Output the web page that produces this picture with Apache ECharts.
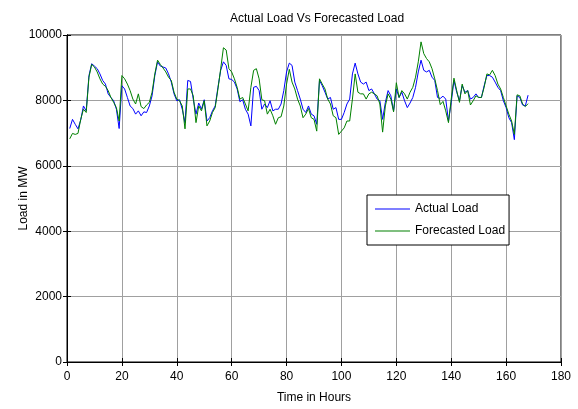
<!DOCTYPE html>
<html>
<head>
<meta charset="utf-8">
<script src="https://cdn.jsdelivr.net/npm/echarts@6/dist/echarts.min.js"></script>
<style>html,body{margin:0;padding:0;background:#fff;}#c{width:578px;height:409px;}</style>
</head>
<body>
<div id="c"></div>
<script>
var startHour = 1;
var actualLoad = [7140,7420,7270,7130,7400,7830,7680,8760,9120,9050,8970,8810,8610,8500,8200,8090,7990,7730,7140,8450,
8350,8090,7830,7750,7580,7680,7530,7650,7630,7830,8140,8760,9180,9050,9020,8990,8810,8560,8200,7990,
8020,7730,7320,8610,8580,8040,7580,7920,7730,8020,7370,7470,7680,7830,8400,8920,9180,9070,8660,8640,
8560,8350,7960,8020,7730,7580,7220,8400,8430,8300,7730,7890,7780,7990,7680,7730,7730,7890,8300,8870,
9140,9070,8560,8300,8040,7730,7630,7830,7580,7530,7270,8610,8450,8250,8040,8090,7730,7780,7420,7420,
7630,7890,8040,8810,9140,8810,8560,8500,8560,8300,8350,8200,8040,7990,7420,7940,8300,8140,7680,8350,
8090,8250,7990,7780,7920,8090,8400,8870,9230,8920,8870,8920,8710,8610,8090,8060,8130,8040,7370,7940,
8610,8250,7990,8450,8250,8300,8040,8090,8200,8090,8090,8450,8760,8760,8710,8560,8400,8300,7990,7780,
7470,7320,6800,8140,8090,7860,7830,8160];
var forecastLoad = [6825,6990,6960,6990,7420,7730,7630,8710,9100,9020,8870,8660,8500,8430,8300,8090,7940,7780,7370,8760,
8660,8500,8300,8040,7890,8200,7810,7750,7860,7940,8250,8810,9230,9100,8990,8870,8710,8610,8250,8040,
7990,7830,7130,8350,8350,8140,7320,7830,7680,7990,7220,7370,7630,7780,8350,8970,9610,9540,8970,8870,
8660,8400,8040,8090,7890,7680,8400,8920,8970,8660,8020,7990,7580,7730,7530,7270,7470,7500,7830,8500,
8950,8560,8350,8040,7830,7470,7580,7750,7470,7420,7060,8660,8500,8350,8040,7890,7530,7470,6960,7060,
7160,7370,7370,8040,8810,8250,8200,8200,8040,8200,8250,8200,8140,7890,7030,7830,8200,8040,7650,8540,
8090,8300,8200,8040,8250,8400,8710,9180,9790,9430,9280,9180,8970,8660,8300,7870,7970,7680,7320,8040,
8680,8300,7940,8500,8200,8300,7860,7990,8140,8090,8090,8400,8810,8780,8920,8760,8500,8350,8090,7830,
7580,7370,6960,8170,8140,7890,7810,7900];
var xTicks = [0,20,40,60,80,100,120,140,160,180];
var yTicks = [0,2000,4000,6000,8000,10000];
var titleText = 'Actual Load Vs Forecasted Load';
var xName = 'Time in Hours';
var yName = 'Load in MW';
var seriesNames = ['Actual Load', 'Forecasted Load'];

function pairs(arr){ return arr.map(function(v,i){ return [startHour + i, v]; }); }

var FONT = '"Liberation Sans", Arial, sans-serif';
var chart = echarts.init(document.getElementById('c'), null, {renderer:'canvas'});
var xMin = xTicks[0], xMax = xTicks[xTicks.length-1], xInt = xTicks[1]-xTicks[0];
var yMin = yTicks[0], yMax = yTicks[yTicks.length-1], yInt = yTicks[1]-yTicks[0];
chart.setOption({
  animation: false,
  backgroundColor: '#fff',
  title: {
    text: titleText, left: 312, top: 8, textAlign: 'center',
    textStyle: {fontFamily: FONT, fontSize: 12, fontWeight: 'normal', color: '#000'}
  },
  legend: {
    orient: 'vertical', left: 367, top: 195,
    padding: [8, 4, 8, 8], itemGap: 10,
    backgroundColor: '#fff', borderColor: '#000', borderWidth: 1,
    icon: 'rect', itemWidth: 35, itemHeight: 1,
    textStyle: {fontFamily: FONT, fontSize: 12, color: '#000'},
    data: seriesNames
  },
  grid: {left: 67, right: 17, top: 35, bottom: 47, show: true, borderColor: '#000', borderWidth: 1, backgroundColor: '#fff'},
  xAxis: [{
    type: 'value', min: xMin, max: xMax, interval: xInt,
    name: xName, nameLocation: 'middle', nameGap: 30,
    nameTextStyle: {fontFamily: FONT, fontSize: 12, color: '#000'},
    axisLine: {show: true, lineStyle: {color: '#000', width: 1}},
    axisTick: {show: true, inside: true, length: 4, lineStyle: {color: '#000'}},
    axisLabel: {fontFamily: FONT, fontSize: 12, color: '#000', margin: 9, formatter: function(v){ return String(v); }},
    splitLine: {show: true, lineStyle: {color: '#a0a0a0', width: 1}}
  },{
    type: 'value', min: xMin, max: xMax, interval: xInt, position: 'top',
    axisLine: {show: true, lineStyle: {color: '#000'}},
    axisTick: {show: true, inside: true, length: 4, lineStyle: {color: '#000'}},
    axisLabel: {show: false}, splitLine: {show: false}
  }],
  yAxis: [{
    type: 'value', min: yMin, max: yMax, interval: yInt,
    name: yName, nameLocation: 'middle', nameGap: 37, nameRotate: 90, nameMoveOverlap: false,
    nameTextStyle: {fontFamily: FONT, fontSize: 12, color: '#000'},
    axisLine: {show: true, lineStyle: {color: '#000', width: 1}},
    axisTick: {show: true, inside: true, length: 4, lineStyle: {color: '#000'}},
    axisLabel: {fontFamily: FONT, fontSize: 12, color: '#000', margin: 5, formatter: function(v){ return String(v); }},
    splitLine: {show: true, lineStyle: {color: '#a0a0a0', width: 1}}
  },{
    type: 'value', min: yMin, max: yMax, interval: yInt, position: 'right',
    axisLine: {show: true, lineStyle: {color: '#000'}},
    axisTick: {show: true, inside: true, length: 4, lineStyle: {color: '#000'}},
    axisLabel: {show: false}, splitLine: {show: false}
  }],
  series: [{
    name: seriesNames[0], type: 'line', data: pairs(actualLoad),
    symbol: 'none', lineStyle: {color: '#0000ff', width: 1}, itemStyle: {color: '#0000ff'}, z: 3
  },{
    name: seriesNames[1], type: 'line', data: pairs(forecastLoad),
    symbol: 'none', lineStyle: {color: '#008000', width: 1}, itemStyle: {color: '#008000'}, z: 4
  }]
});
</script>
</body>
</html>
